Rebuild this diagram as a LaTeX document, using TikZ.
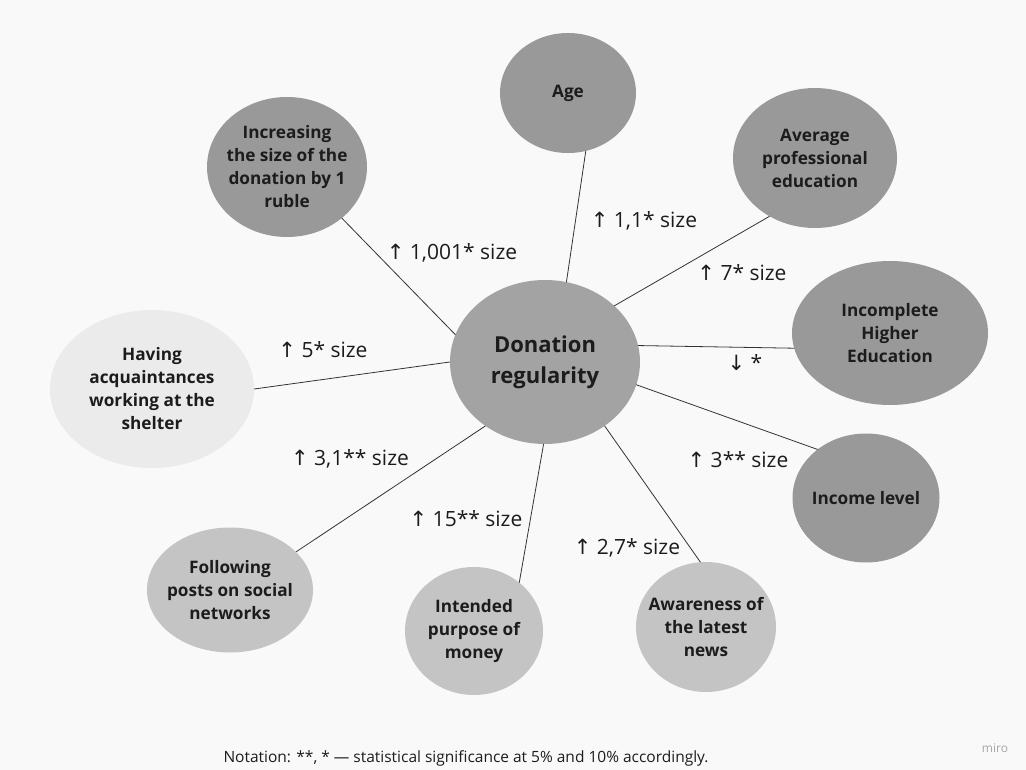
\documentclass[tikz,border=0pt]{standalone}
\usepackage{fontspec}
\setmainfont{Open Sans}
\newfontfamily\arrowfont{DejaVu Sans}
\usetikzlibrary{shapes.geometric}
\definecolor{bgcol}{HTML}{F9F9F9}
\definecolor{darkfill}{HTML}{999999}
\definecolor{midfill}{HTML}{A3A3A3}
\definecolor{lightfill}{HTML}{C4C4C4}
\definecolor{palefill}{HTML}{EBEBEB}
\definecolor{txtcol}{HTML}{1C1C1C}
\newcommand{\up}{{\arrowfont\char"2191}}
\newcommand{\down}{{\arrowfont\char"2193}}
\begin{document}
\begin{tikzpicture}[x=1pt, y=-1pt, line join=round, line cap=round,
  factor/.style={ellipse, fill=darkfill, text=txtcol, inner sep=-8pt, align=center,
    font=\fontsize{17.2}{23}\selectfont\bfseries},
  lowfactor/.style={factor, fill=lightfill},
  palefactor/.style={factor, fill=palefill},
  effect/.style={text=txtcol, font=\fontsize{21}{25}\selectfont},
  link/.style={draw=black!80, line width=0.8pt}]
  \fill[bgcol] (0,0) rectangle (1026,770);

  \node[ellipse, fill=midfill, minimum width=190, minimum height=164, inner sep=0pt,
    align=center, text=txtcol, font=\fontsize{22}{31}\selectfont\bfseries]
    (donation) at (545,362) {Donation\\regularity};

  \node[factor, minimum width=136, minimum height=120] (age) at (568,93) {Age};
  \node[factor, minimum width=160, minimum height=140] (size) at (287,167)
    {Increasing\\the size of the\\donation by 1\\ruble};
  \node[factor, minimum width=164, minimum height=140] (average) at (815,158)
    {Average\\professional\\education};
  \node[factor, minimum width=196, minimum height=144] (incomplete) at (890,333)
    {Incomplete\\Higher\\Education};
  \node[factor, minimum width=147, minimum height=129] (income) at (866,498)
    {Income level};
  \node[lowfactor, minimum width=140, minimum height=130] (news) at (706,627)
    {Awareness of\\the latest\\news};
  \node[lowfactor, minimum width=138, minimum height=128] (purpose) at (474,631)
    {Intended\\purpose of\\money};
  \node[lowfactor, minimum width=166, minimum height=125] (posts) at (230,590)
    {Following\\posts on social\\networks};
  \node[palefactor, minimum width=204, minimum height=158] (shelter) at (152,389)
    {Having\\acquaintances\\working at the\\shelter};

  \draw[link] (donation.75) -- (age.-73);
  \draw[link] (donation.163) -- (size.-43);
  \draw[link] (donation.39) -- (average.-128);
  \draw[link] (donation.10) -- (incomplete.-171);
  \draw[link] (donation.-14) -- (income.135);
  \draw[link] (donation.-47) -- (news.95);
  \draw[link] (donation.-91) -- (purpose.47);
  \draw[link] (donation.-133) -- (posts.30);
  \draw[link] (donation.180) -- (shelter.0);

  \node[effect] (l-size) at (452,253) {\up{} 1,001* size};
  \node[effect] (l-age) at (644,221) {\up{} 1,1* size};
  \node[effect] (l-average) at (742,273) {\up{} 7* size};
  \node[effect] (l-incomplete) at (745,363) {\down{} *};
  \node[effect] (l-income) at (738,460) {\up{} 3** size};
  \node[effect] (l-news) at (627,548) {\up{} 2,7* size};
  \node[effect] (l-purpose) at (466,519) {\up{} 15** size};
  \node[effect] (l-posts) at (350,459) {\up{} 3,1** size};
  \node[effect] (l-shelter) at (323,350) {\up{} 5* size};

  \node[text=txtcol, font=\fontsize{15.5}{18}\selectfont] (note) at (466,758)
    {Notation: **, * --- statistical significance at 5\% and 10\% accordingly.};
  \node[text=black!35, font=\fontsize{12}{14}\selectfont] (miro) at (995,748) {miro};
\end{tikzpicture}
\end{document}
